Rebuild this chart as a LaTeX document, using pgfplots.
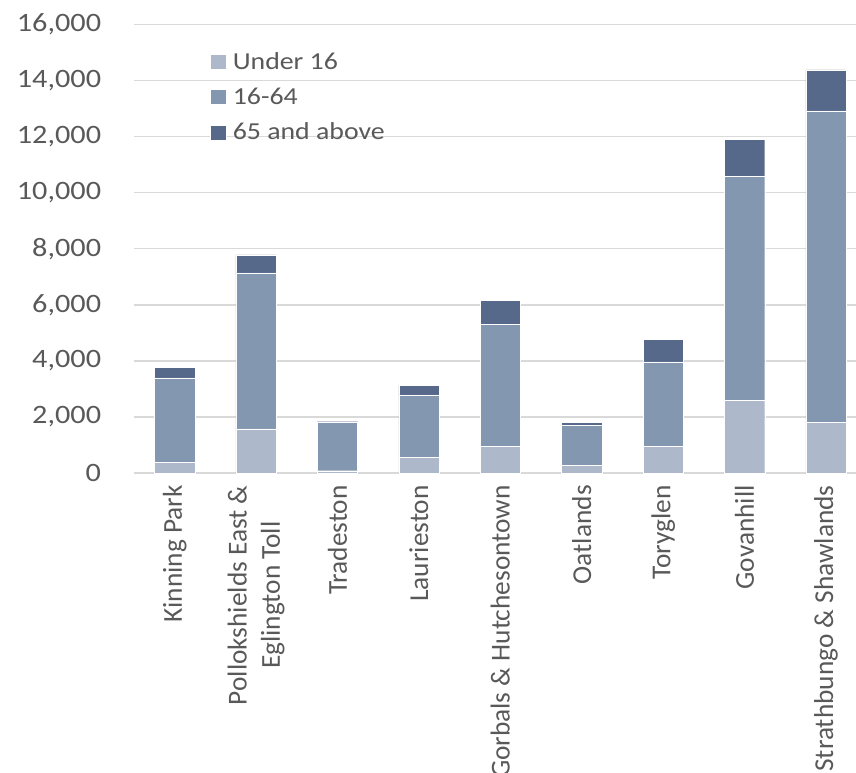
\documentclass[border=0pt]{standalone}
\usepackage{pgfplots}
\pgfplotsset{compat=1.18}
\usepackage{fontspec}
\setmainfont{Carlito}
\newfontfamily\hfont{Carlito}[FakeStretch=1.14]
\definecolor{cA}{HTML}{ADB9CA}
\definecolor{cB}{HTML}{8497B0}
\definecolor{cC}{HTML}{56698A}
\definecolor{txt}{HTML}{595959}
\definecolor{grd}{HTML}{D9D9D9}
\begin{document}
\begin{tikzpicture}
\useasboundingbox (0pt,0pt) rectangle (642pt,579pt);
\clip (0pt,0pt) rectangle (642pt,579pt);
\begin{axis}[
  at={(100.5pt,224.25pt)}, anchor=south west,
  scale only axis, width=549.5pt, height=336.4pt,
  ybar stacked, bar width=0.495,
  xmin=-0.5, xmax=8.5, ymin=0, ymax=16000,
  ytick={0,2000,...,16000},
  scaled y ticks=false,
  xtick={0,...,8},
  xticklabels={Kinning Park, {Pollokshields East \&\\Eglington Toll}, Tradeston, Laurieston, Gorbals \& Hutchesontown, Oatlands, Toryglen, Govanhill, Strathbungo \& Shawlands},
  axis line style={draw=none},
  major tick length=0pt,
  ymajorgrids, grid style={grd, line width=1.1pt},
  /pgf/number format/.cd, 1000 sep={,}, assume math mode=true,
  /pgfplots/.cd,
  yticklabel style={font=\fontsize{19.9}{24}\hfont, text=txt, inner sep=0pt, xshift=-24.5pt},
  xticklabel style={font=\fontsize{20.5}{25}\selectfont, text=txt, rotate=90, anchor=east, align=center, inner sep=0pt, xshift=-9pt},
  legend style={at={(0.103,0.945)}, anchor=north west, draw=none, fill=none,
    font=\fontsize{18.3}{22}\hfont, text=txt, row sep=8.5pt, inner sep=0pt},
  legend cell align=left,
  legend image code/.code={\fill[#1] (0pt,-5.6pt) rectangle (12.5pt,5.6pt); \path (15pt,0pt);},
  /tikz/every even column/.append style={column sep=0pt},
  every axis plot/.append style={draw=white, line width=0.3pt},
]
\addplot[fill=cA] coordinates {(0,370) (1,1570) (2,82) (3,546) (4,963) (5,285) (6,963) (7,2580) (8,1819)};
\addplot[fill=cB] coordinates {(0,3020) (1,5565) (2,1713) (3,2237) (4,4342) (5,1403) (6,2997) (7,7991) (8,11096)};
\addplot[fill=cC] coordinates {(0,380) (1,650) (2,35) (3,346) (4,856) (5,131) (6,796) (7,1334) (8,1462)};
\legend{Under 16, 16-64, 65 and above}
\end{axis}
\end{tikzpicture}
\end{document}
